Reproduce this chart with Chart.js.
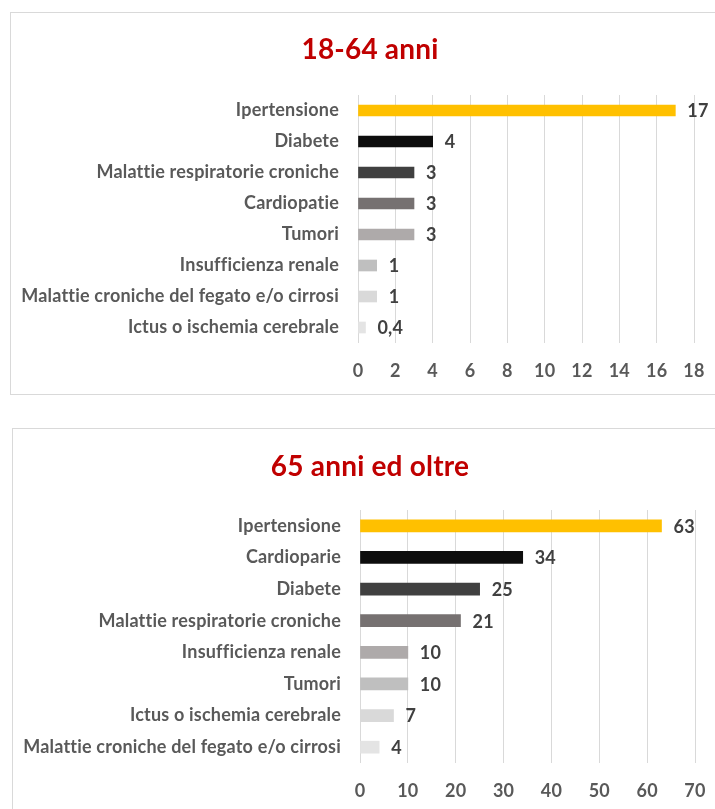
<!DOCTYPE html>
<html>
<head>
<meta charset="utf-8">
<script src="https://cdn.jsdelivr.net/npm/chart.js@4.4.1/dist/chart.umd.min.js"></script>
<style>
  html, body { margin: 0; padding: 0; background: #fff; overflow: hidden; width: 715px; height: 809px; }
  .box { position: absolute; border: 1px solid #d9d9d9; background: #fff; }
  #box1 { left: 10px; top: 12px; width: 740px; height: 381px; }
  #box2 { left: 12px; top: 428px; width: 740px; height: 400px; }
  canvas { display: block; }
</style>
</head>
<body>
<div class="box" id="box1"><canvas id="c1" width="740" height="381"></canvas></div>
<div class="box" id="box2"><canvas id="c2" width="740" height="400"></canvas></div>
<script>
// dati: 18-64 anni
const title1 = '18-64 anni';
const cats1 = ['Ipertensione', 'Diabete', 'Malattie respiratorie croniche', 'Cardiopatie', 'Tumori',
  'Insufficienza renale', 'Malattie croniche del fegato e/o cirrosi', 'Ictus o ischemia cerebrale'];
const vals1 = [17, 4, 3, 3, 3, 1, 1, 0.4];
const colors1 = ['#ffc000', '#0d0d0d', '#404040', '#767171', '#aeaaaa', '#bfbfbf', '#d9d9d9', '#e4e4e4'];
const ticks1 = { min: 0, max: 18, step: 2 };

// dati: 65 anni ed oltre
const title2 = '65 anni ed oltre';
const cats2 = ['Ipertensione', 'Cardioparie', 'Diabete', 'Malattie respiratorie croniche',
  'Insufficienza renale', 'Tumori', 'Ictus o ischemia cerebrale', 'Malattie croniche del fegato e/o cirrosi'];
const vals2 = [63, 34, 25, 21, 10, 10, 7, 4];
const colors2 = ['#ffc000', '#0d0d0d', '#404040', '#767171', '#aeaaaa', '#bfbfbf', '#d9d9d9', '#e4e4e4'];
const ticks2 = { min: 0, max: 70, step: 10 };

const FONT = "Lato, 'Open Sans', sans-serif";
const TXT = 18;

// niente legature "tt" di Lato
const noLigatures = {
  id: 'noLigatures',
  beforeDraw(chart) { chart.ctx.letterSpacing = '0.2px'; }
};

// etichette valore a destra delle barre (virgola decimale)
const valueLabels = {
  id: 'valueLabels',
  afterDatasetsDraw(chart, args, opts) {
    const ctx = chart.ctx;
    const meta = chart.getDatasetMeta(0);
    const data = chart.data.datasets[0].data;
    ctx.save();
    ctx.font = `bold ${opts.size}px ${FONT}`;
    ctx.fillStyle = '#404040';
    ctx.textAlign = 'left';
    ctx.textBaseline = 'middle';
    meta.data.forEach((bar, i) => {
      ctx.fillText(String(data[i]).replace('.', ','), bar.x + opts.offset, bar.y + 1);
    });
    ctx.restore();
  }
};

// titolo centrato sul riquadro (non sull'area del grafico)
const boxTitle = {
  id: 'boxTitle',
  afterDraw(chart, args, opts) {
    const ctx = chart.ctx;
    ctx.save();
    ctx.font = `bold ${opts.size}px ${FONT}`;
    ctx.fillStyle = '#c00000';
    ctx.textAlign = 'center';
    ctx.textBaseline = 'middle';
    ctx.fillText(opts.text, opts.x, opts.y);
    ctx.restore();
  }
};

function drawChart(id, title, cats, vals, colors, tk, cfg) {
  const el = document.getElementById(id);
  return new Chart(el, {
    type: 'bar',
    data: {
      labels: cats,
      datasets: [{
        data: vals,
        backgroundColor: colors,
        borderWidth: 0,
        barThickness: cfg.bar,
      }]
    },
    options: {
      indexAxis: 'y',
      responsive: false,
      animation: false,
      devicePixelRatio: 1,
      layout: { padding: { left: 0, right: cfg.right, top: cfg.top, bottom: cfg.bottom } },
      plugins: {
        legend: { display: false },
        tooltip: { enabled: false },
        title: { display: false },
        boxTitle: { text: title, size: 28, x: cfg.titleX, y: cfg.titleY },
        valueLabels: { size: TXT, offset: 12 },
      },
      scales: {
        x: {
          min: tk.min,
          max: tk.max,
          afterFit: (s) => { s.height = 40; },
          ticks: {
            stepSize: tk.step,
            color: '#595959',
            padding: cfg.xPad,
            font: { family: FONT, size: TXT, weight: 'bold' },
          },
          grid: { color: '#d9d9d9', lineWidth: 1, drawTicks: false },
          border: { display: false },
        },
        y: {
          afterFit: (s) => { s.width = cfg.yWidth; },
          ticks: {
            color: '#595959',
            padding: 19,
            font: { family: FONT, size: TXT, weight: 'bold' },
          },
          grid: { display: false, drawTicks: false },
          border: { display: false },
        }
      }
    },
    plugins: [noLigatures, valueLabels, boxTitle],
  });
}

drawChart('c1', title1, cats1, vals1, colors1, ticks1, {
  bar: 11, right: 57, top: 82, bottom: 11, yWidth: 347,
  titleX: 359, titleY: 37, xPad: 17,
});
drawChart('c2', title2, cats2, vals2, colors2, ticks2, {
  bar: 12, right: 58, top: 81, bottom: 26, yWidth: 347,
  titleX: 357, titleY: 38, xPad: 17,
});
</script>
</body>
</html>
